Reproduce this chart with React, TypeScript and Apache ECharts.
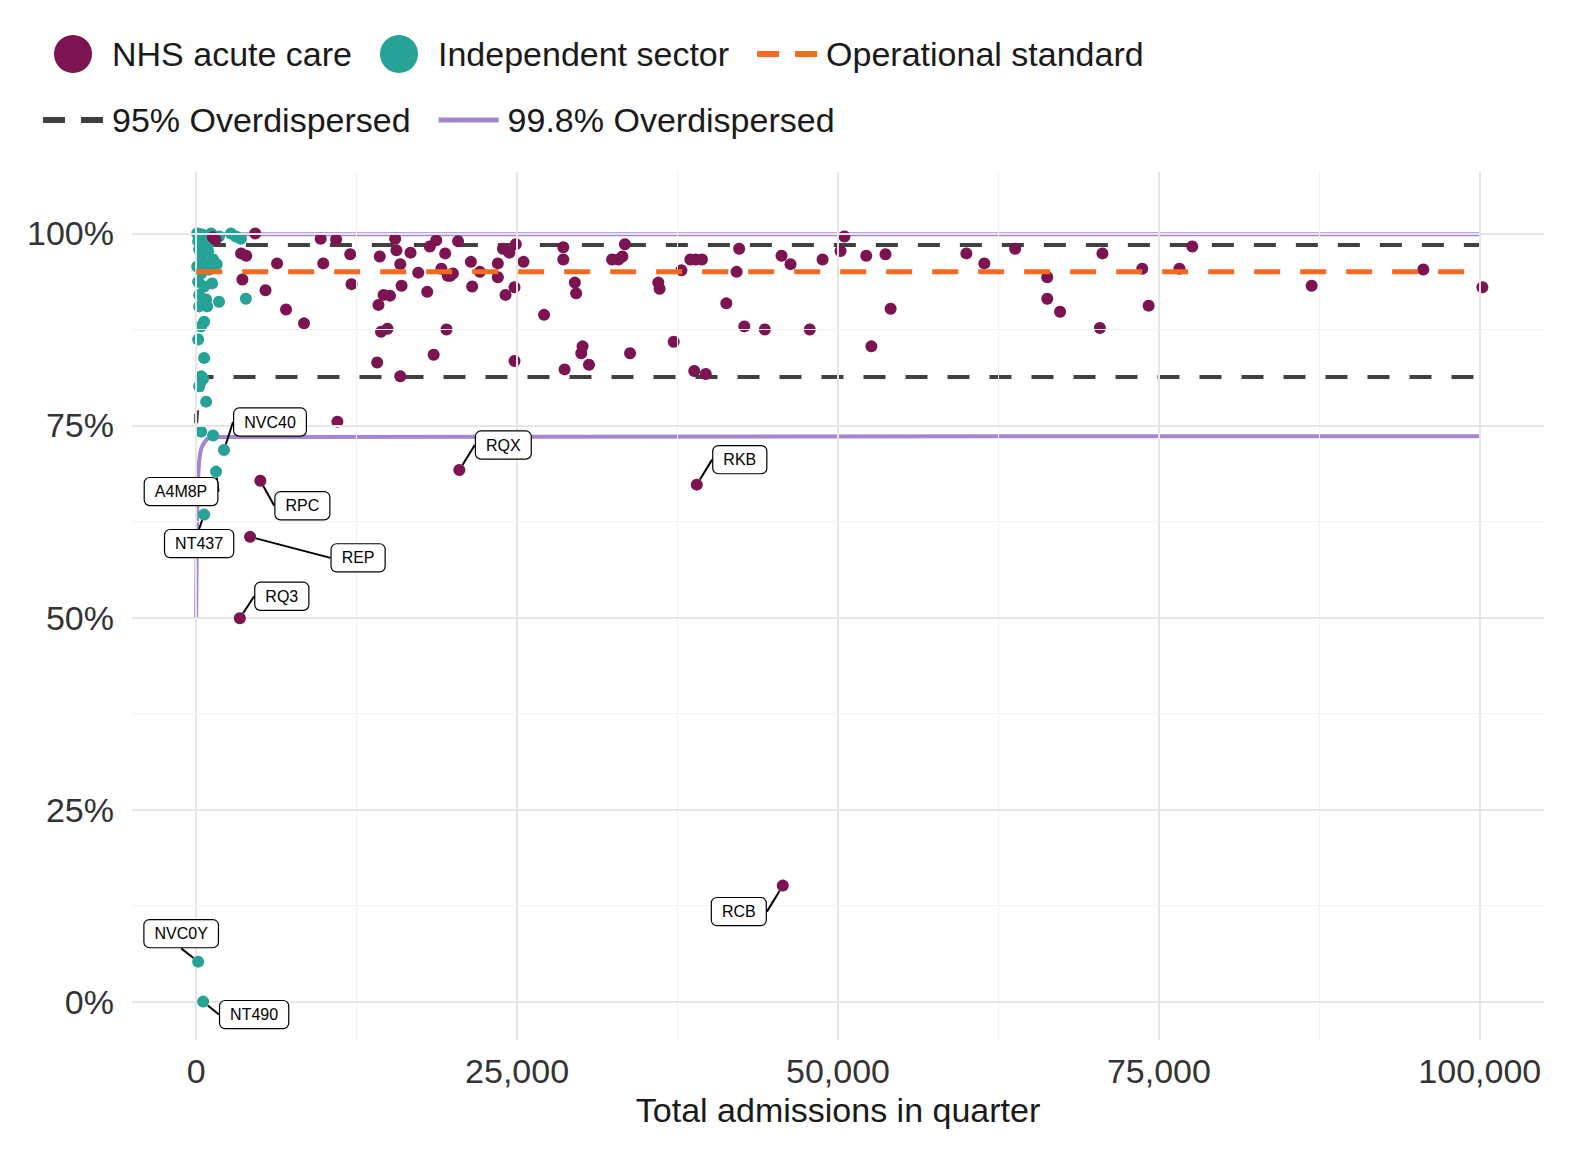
import React, { useEffect, useRef } from 'react';
import * as echarts from 'echarts';

// [admissions, % within standard]
const nhsPoints: number[][] = [
  [1300, 99.5], [1500, 99.2], [4600, 100], [3500, 97.4], [3900, 97.1], [3600, 94.0], [5400, 92.6],
  [6300, 96.1], [7000, 90.1], [8400, 88.3], [9700, 99.3], [9900, 96.1], [10900, 99.2], [11000, 75.5],
  [12000, 97.3], [12100, 93.4], [14100, 83.2], [14300, 97.0], [14200, 90.7], [14600, 92.0], [14400, 87.2],
  [14900, 87.6], [15100, 91.9], [15500, 99.3], [15600, 97.8], [15900, 96.0], [15900, 81.4], [16000, 93.2],
  [16700, 97.5], [17300, 94.9], [18000, 92.4], [18200, 98.3], [18500, 84.2], [18700, 99.1], [19100, 95.4],
  [19400, 97.4], [19600, 94.5], [19500, 87.5], [19800, 94.5], [20000, 94.8], [20400, 99.0], [21400, 96.3],
  [21500, 93.1], [22100, 95.0], [23500, 96.1], [23500, 94.3], [23900, 98.0], [24100, 92.0], [24400, 97.5],
  [24800, 93.0], [24900, 98.6], [24800, 83.4], [25500, 96.3], [27100, 89.4], [28600, 98.2], [28600, 96.6],
  [28700, 82.3], [29500, 93.6], [29600, 92.2], [30000, 84.4], [30100, 85.3], [30600, 82.9], [32400, 96.6],
  [32900, 96.6], [33200, 97.0], [33400, 98.6], [33800, 84.4], [36000, 93.6], [36100, 92.8], [37200, 85.9],
  [37800, 95.2], [38500, 96.6], [38800, 82.1], [38900, 96.6], [39400, 96.6], [39700, 81.7], [41300, 90.9],
  [42100, 95.0], [42300, 98.0], [42700, 87.9], [44300, 87.5], [45600, 97.1], [46300, 96.0], [47800, 87.5],
  [48800, 96.6], [50200, 97.7], [50500, 99.6], [52200, 97.1], [52600, 85.3], [53700, 97.3], [54100, 90.2],
  [60000, 97.4], [61400, 96.1], [63800, 98.0], [66300, 94.3], [66300, 91.5], [67300, 89.8], [70400, 87.7],
  [70600, 97.4], [73700, 95.4], [74200, 90.6], [76600, 95.4], [77600, 98.3], [86900, 93.2], [95600, 95.3],
  [100200, 93.0],
];

const indPoints: number[][] = [
  [77, 100], [387, 99.9], [774, 99.7], [1161, 100], [1780, 99.6], [2709, 100], [3096, 99.6], [3483, 99.3],
  [155, 99.0], [232, 97.9], [542, 98.3], [929, 97.7], [387, 96.9], [774, 96.1], [1316, 96.6], [77, 95.7],
  [387, 94.8], [1006, 95.3], [155, 93.7], [619, 93.1], [1238, 93.5], [232, 92.0], [774, 91.4], [1780, 91.1],
  [3870, 91.5], [232, 90.5], [851, 90.5], [619, 88.5], [387, 87.9], [155, 86.2], [232, 80.1], [619, 83.8],
  [542, 81.1], [387, 81.4], [774, 78.1], [387, 74.2], [1316, 73.7], [1600, 96.0], [1000, 98.8], [300, 98.5],
];

// labelled outliers: [admissions, %, code, label dx, label dy, sector]
const labelled: [number, number, string, number, number, string][] = [
  [2167, 71.8, 'NVC40', 46, -28, 'ind'],
  [1548, 69.0, 'A4M8P', -35, 20, 'ind'],
  [619, 63.4, 'NT437', -5, 29, 'ind'],
  [5000, 67.8, 'RPC', 42, 25, 'nhs'],
  [4200, 60.5, 'REP', 108, 21, 'nhs'],
  [3400, 49.9, 'RQ3', 42, -22, 'nhs'],
  [20500, 69.2, 'RQX', 44, -25, 'nhs'],
  [39000, 67.3, 'RKB', 43, -25, 'nhs'],
  [45700, 15.1, 'RCB', -44, 26, 'nhs'],
  [155, 5.2, 'NVC0Y', -17, -28, 'ind'],
  [542, 0, 'NT490', 51, 13, 'ind'],
];

const operational: number[][] = [[0, 95], [100000, 95]];
const upper95: number[][] = [[600, 98.5], [100000, 98.5]];
const lower95: number[][] = [[0, 76.5], [0, 75.3], [150, 78.5], [800, 81.3], [100000, 81.3]];
const upper998: number[][] = [[400, 99.9], [100000, 99.9]];
const lower998: number[][] = [[0, 50], [50, 60], [150, 68], [400, 72], [1200, 73.5], [100000, 73.6]];

const xMajor = [0, 25000, 50000, 75000, 100000];
const xMinor = [12500, 37500, 62500, 87500];
const yMajor = [0, 25, 50, 75, 100];
const yMinor = [12.5, 37.5, 62.5, 87.5];

const NHS = '#7b1450';
const IND = '#26a297';
const FONT = 'Arial, "Liberation Sans", sans-serif';
const DASH_ICON = 'path://M0,0h22v6h-22z M38,0h22v6h-22z';
const SOLID_ICON = 'path://M0,0h60v5h-60z';

const App: React.FC = () => {
  const chartRef = useRef<HTMLDivElement>(null);

  useEffect(() => {
    if (!chartRef.current) return;
    const chart = echarts.init(chartRef.current, null, { renderer: 'svg' });

    const gridLines = [
      ...xMajor.map((v) => ({ xAxis: v, lineStyle: { color: '#e6e6e6', width: 2, type: 'solid' } })),
      ...xMinor.map((v) => ({ xAxis: v, lineStyle: { color: '#f2f2f2', width: 1, type: 'solid' } })),
      ...yMajor.map((v) => ({ yAxis: v, lineStyle: { color: '#e6e6e6', width: 2, type: 'solid' } })),
      ...yMinor.map((v) => ({ yAxis: v, lineStyle: { color: '#f2f2f2', width: 1, type: 'solid' } })),
    ];

    const option: echarts.EChartsOption = {
      animation: false,
      textStyle: { fontFamily: FONT },
      legend: {
        top: 22,
        left: 30,
        width: 1420,
        itemWidth: 60,
        itemHeight: 38,
        itemGap: 28,
        textStyle: { fontSize: 34, color: '#1a1a1a', fontFamily: FONT, padding: [0, 50, 0, 4] },
        data: [
          { name: 'NHS acute care', icon: 'circle', itemStyle: { color: NHS } },
          { name: 'Independent sector', icon: 'circle', itemStyle: { color: IND } },
          { name: 'Operational standard', icon: DASH_ICON, itemStyle: { color: '#f26b21' } },
          { name: '95% Overdispersed', icon: DASH_ICON, itemStyle: { color: '#404040' } },
          { name: '99.8% Overdispersed', icon: SOLID_ICON, itemStyle: { color: '#a286d1' } },
        ],
      } as any,
      grid: { left: 124, right: 22, top: 164, bottom: 104 },
      xAxis: {
        type: 'value',
        min: -5000,
        max: 105000,
        name: 'Total admissions in quarter',
        nameLocation: 'middle',
        nameGap: 42,
        nameTextStyle: { fontSize: 34, color: '#1a1a1a' },
        splitLine: { show: false },
        axisLine: { show: false },
        axisTick: { show: false },
        axisLabel: {
          customValues: xMajor,
          fontSize: 34,
          color: '#333',
          margin: 14,
          formatter: (v: number) => v.toLocaleString('en-GB'),
        },
      } as any,
      yAxis: {
        type: 'value',
        min: -5,
        max: 108,
        splitLine: { show: false },
        axisLine: { show: false },
        axisTick: { show: false },
        axisLabel: {
          customValues: yMajor,
          fontSize: 34,
          color: '#333',
          margin: 18,
          formatter: (v: number) => `${v}%`,
        },
      } as any,
      series: [
        {
          type: 'line',
          name: '_grid',
          data: [],
          silent: true,
          markLine: { silent: true, symbol: 'none', label: { show: false }, data: gridLines as any },
        },
        {
          type: 'line', name: '99.8% Overdispersed', data: upper998, showSymbol: false, z: 3,
          lineStyle: { color: '#a286d1', width: 4 }, itemStyle: { color: '#a286d1' },
        },
        {
          type: 'line', name: '99.8% Overdispersed', data: lower998, showSymbol: false, smooth: 0.3, z: 3,
          lineStyle: { color: '#a286d1', width: 4 }, itemStyle: { color: '#a286d1' },
        },
        {
          type: 'line', name: '95% Overdispersed', data: upper95, showSymbol: false, z: 3,
          lineStyle: { color: '#404040', width: 4, type: [22, 20] }, itemStyle: { color: '#404040' },
        },
        {
          type: 'line', name: '95% Overdispersed', data: lower95, showSymbol: false, z: 3,
          lineStyle: { color: '#404040', width: 4, type: [22, 20] }, itemStyle: { color: '#404040' },
        },
        {
          type: 'scatter', name: 'Independent sector', data: indPoints, symbolSize: 12, z: 4,
          itemStyle: { color: IND, opacity: 1 },
        },
        {
          type: 'scatter', name: 'NHS acute care', data: nhsPoints, symbolSize: 12, z: 4,
          itemStyle: { color: NHS, opacity: 1 },
        },
        {
          type: 'line', name: 'Operational standard', data: operational, showSymbol: false, z: 5,
          lineStyle: { color: '#f26b21', width: 5, type: [26, 20] }, itemStyle: { color: '#f26b21' },
        },
        {
          type: 'scatter',
          name: '_labelled',
          symbolSize: 12,
          z: 6,
          data: labelled.map((d) => ({
            value: [d[0], d[1]],
            name: d[2],
            itemStyle: { color: d[5] === 'nhs' ? NHS : IND, opacity: 1 },
          })),
          label: {
            show: true,
            position: 'inside',
            formatter: '{b}',
            fontSize: 16,
            color: '#000',
            backgroundColor: '#fff',
            borderColor: '#000',
            borderWidth: 1.2,
            borderRadius: 5,
            padding: [6, 10, 5, 10],
          },
          labelLine: { show: true, lineStyle: { color: '#000', width: 2 } },
          labelLayout: (p: any) => ({ dx: labelled[p.dataIndex][3], dy: labelled[p.dataIndex][4] }),
        } as any,
      ],
    };

    chart.setOption(option);
    return () => chart.dispose();
  }, []);

  return <div ref={chartRef} style={{ width: 1558, height: 1136 }} />;
};

export default App;
